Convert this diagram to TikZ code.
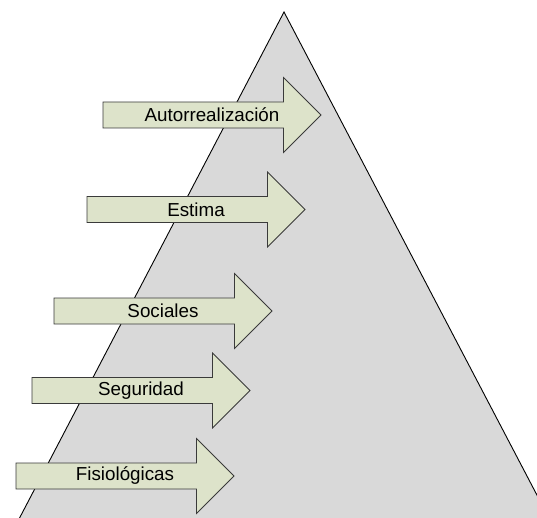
\documentclass[tikz,border=0pt]{standalone}
\usepackage{fontspec}
\setmainfont{Liberation Sans}
\definecolor{trifill}{HTML}{D9D9D9}
\definecolor{arrfill}{HTML}{DDE3CA}
\definecolor{arrline}{HTML}{3A3A3A}
\tikzset{
  tri/.style={fill=trifill,draw=black,line width=0.9pt,line join=miter},
  arrowbox/.style={fill=arrfill,draw=arrline,line width=0.8pt,line join=miter},
  lbl/.style={font=\fontsize{18.8}{22}\selectfont,text=black,inner sep=0pt,anchor=center},
}
\newcommand{\levelarrow}[4]{% left x, center y, name, text
  \draw[arrowbox] (#1,#2-13) -- (#1+180.5,#2-13) -- (#1+180.5,#2-37.5) -- (#1+218,#2)
    -- (#1+180.5,#2+37.5) -- (#1+180.5,#2+13) -- (#1,#2+13) -- cycle;
  \node[lbl] (#3) at (#1+109,#2) {#4};
}
\begin{document}
\begin{tikzpicture}[x=1pt,y=-1pt]
\useasboundingbox (0,0) rectangle (537,518);
\begin{scope}
\clip (0,0) rectangle (537,518);
\coordinate (apex) at (284,12);
\coordinate (bl) at (18.5,520);
\coordinate (br) at (550,520);
\draw[tri] (bl) -- (apex) -- (br);
\end{scope}
\levelarrow{103}{115}{auto}{Autorrealización}
\levelarrow{87}{209.5}{estima}{Estima}
\levelarrow{54}{311}{sociales}{Sociales}
\levelarrow{32}{390.5}{seguridad}{Seguridad}
\levelarrow{16}{476}{fisio}{Fisiológicas}
\end{tikzpicture}
\end{document}
